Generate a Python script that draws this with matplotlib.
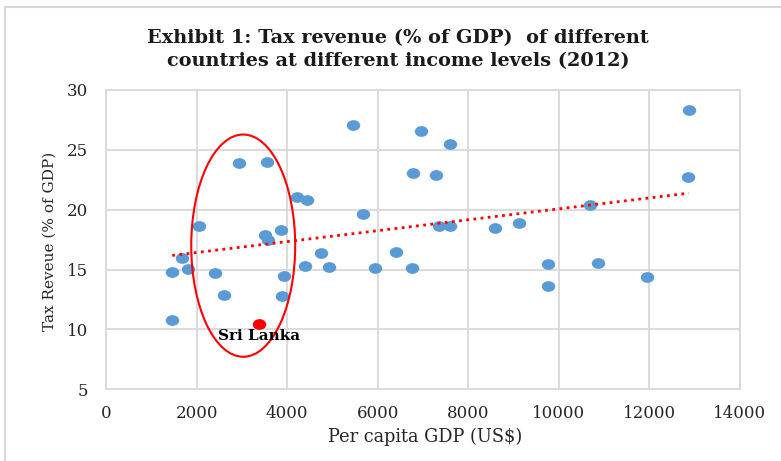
import numpy as np
import matplotlib.pyplot as plt
from matplotlib.patches import Ellipse
from matplotlib.lines import Line2D
from matplotlib.markers import MarkerStyle
from matplotlib.transforms import Affine2D

# datos
gdp = [1462, 1462, 1669, 1801, 2058, 2404, 2609, 2940, 3545, 3508, 3581, 3861,
       3934, 3883, 4207, 4442, 4391, 4744, 4928, 5457, 5678, 5936, 6400, 6746,
       6782, 6951, 7283, 7345, 7600, 7600, 8600, 9122, 9755, 9755, 10682,
       10866, 11947, 12868, 12852]
tax = [14.8, 10.78, 16.0, 15.08, 18.6, 14.72, 12.86, 23.9, 23.97, 17.86, 17.5,
       18.3, 14.5, 12.8, 21.05, 20.8, 15.3, 16.4, 15.2, 27.1, 19.67, 15.17,
       16.5, 15.17, 23.1, 26.6, 22.9, 18.63, 18.67, 25.5, 18.5, 18.9, 15.44,
       13.63, 20.36, 15.58, 14.36, 28.33, 22.75]
sl_gdp = 3383
sl_tax = 10.44

serif = ['DejaVu Serif']
gris = '#d9d9d9'

fig = plt.figure(figsize=(7.81, 4.61), dpi=100)
ax = fig.add_axes([0.1358, 0.1555, 0.8117, 0.6493])

marca = MarkerStyle('o', transform=Affine2D().scale(1.25, 1.0))
ax.scatter(gdp, tax, s=60, marker=marca, color='#5b9bd5', zorder=3, linewidths=0)
ax.scatter([sl_gdp], [sl_tax], s=60, marker=marca, color='#ff0000', zorder=3, linewidths=0)

# linea de tendencia (ajuste lineal)
todos_x = np.array(gdp + [sl_gdp])
todos_y = np.array(tax + [sl_tax])
m, b = np.polyfit(todos_x, todos_y, 1)
xt = np.array([todos_x.min(), todos_x.max()])
ax.plot(xt, m * xt + b, color='#ff0000', lw=2, linestyle=(0, (1, 1.6)), zorder=4)

# elipse alrededor de paises similares
ax.add_patch(Ellipse((3029, 17.0), 2296, 18.56, fill=False, edgecolor='#ff0000',
                     lw=1.5, zorder=5))
ax.text(3370, 9.45, 'Sri Lanka', family=serif, fontweight='bold', fontsize=11,
        ha='center', va='center', zorder=6)

ax.set_xlim(0, 14000)
ax.set_ylim(5, 30)
ax.set_xticks(range(0, 14001, 2000))
ax.set_yticks(range(5, 31, 5))
ax.grid(True, color=gris, lw=1.3)
ax.set_axisbelow(True)
for s in ax.spines.values():
    s.set_color(gris)
    s.set_linewidth(1.3)
ax.tick_params(length=0, labelsize=12, labelcolor='#262626')
ax.tick_params(axis='x', pad=11)
ax.tick_params(axis='y', pad=13)
for lab in ax.get_xticklabels() + ax.get_yticklabels():
    lab.set_family(serif)

ax.set_xlabel('Per capita GDP (US$)', family=serif, fontsize=12.8, color='#262626')
ax.set_ylabel('Tax Reveue (% of GDP)', family=serif, fontsize=11, color='#262626')
ax.xaxis.set_label_coords(0.503, -0.159)
ax.xaxis.label.set_va('center')
ax.yaxis.set_label_coords(-0.0885, 0.495)
ax.yaxis.label.set_va('center')

fig.text(0.510, 0.8925, 'Exhibit 1: Tax revenue (% of GDP)  of different\n'
         'countries at different income levels (2012)',
         family=serif, fontweight='bold', fontsize=13.9, ha='center', va='center',
         linespacing=1.3, color='#1a1a1a')

# marco del grafico
fig.add_artist(Line2D([0.0064, 0.0064], [0, 0.9848], color=gris, lw=1.5))
fig.add_artist(Line2D([0.0064, 1], [0.9848, 0.9848], color=gris, lw=1.5))

fig.savefig('out.png', dpi=100)
